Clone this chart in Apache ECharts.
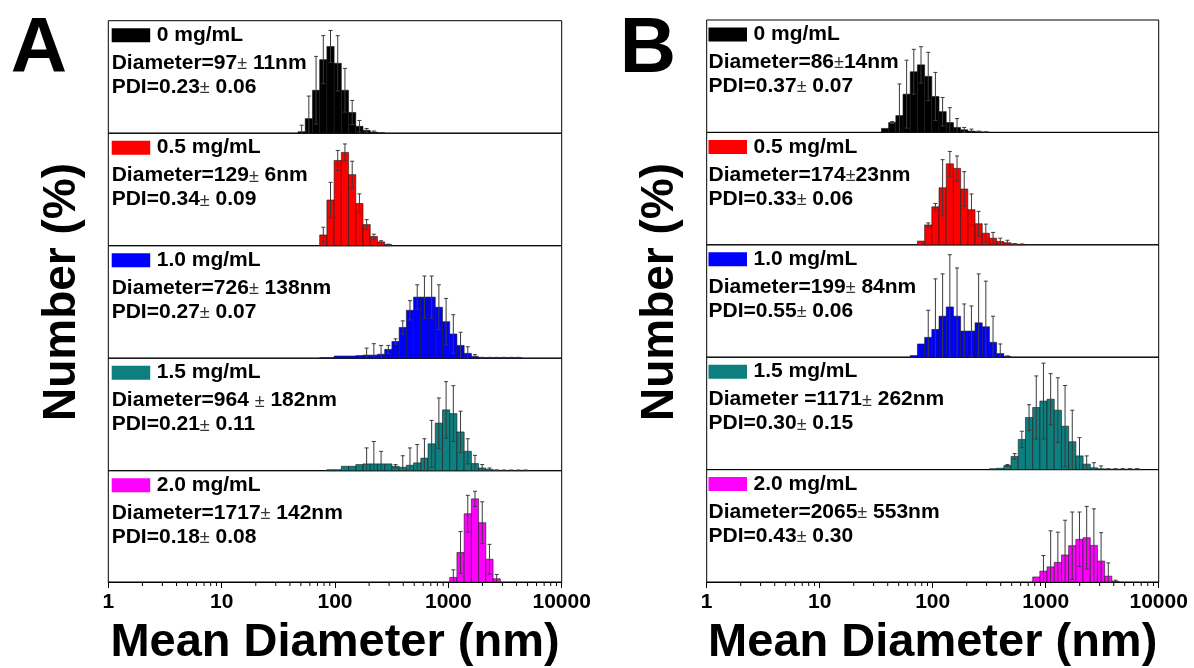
<!DOCTYPE html>
<html>
<head>
<meta charset="utf-8">
<title>Number distributions</title>
<script src="https://cdn.jsdelivr.net/npm/echarts@6/dist/echarts.min.js"></script>
<style>
  html, body { margin: 0; padding: 0; background: #fff; }
  #chart { width: 1194px; height: 668px; }
</style>
</head>
<body>
<div id="chart"></div>
<script>
// DLS number distributions, bins = Zetasizer size classes (nm)
var bins = [37.84, 43.82, 50.75, 58.77, 68.06, 78.82, 91.28, 105.7, 122.4, 141.8,
    164.2, 190.1, 220.2, 255.0, 295.3, 342.0, 396.1, 458.7, 531.2, 615.1,
    712.4, 825.0, 955.4, 1106, 1281, 1484, 1718, 1990, 2305, 2669,
    3091, 3580, 4145, 4801, 5560, 6439, 7456, 8635];
var binRatio = 1.1581; // step between two bins

var xTicks = [1, 10, 100, 1000, 10000];
var concLabels = ['0 mg/mL', '0.5 mg/mL', '1.0 mg/mL', '1.5 mg/mL', '2.0 mg/mL'];
var colors = ['#000000', '#ff0000', '#0000ff', '#0d7f7f', '#ff00ff'];

// panel A : first bin index, Number (%) and error, y max
var startA = [2, 5, 5, 6, 23];
var yMaxA = [30.9, 29.3, 25.6, 33.1, 41.1];
var valA0 = [0.4, 4.0, 11.8, 20.2, 23.8, 19.2, 11.8, 5.7, 1.9, 0.8, 0.3, 0.1];
var errA0 = [1.8, 6.2, 9.3, 6.6, 4.4, 7.6, 6.0, 3.3, 1.6, 0.5, 0.3, 0.1];
var valA1 = [2.8, 11.9, 22.2, 24.3, 18.5, 11.0, 5.5, 2.4, 1.0, 0.3];
var errA1 = [2.0, 4.6, 2.6, 2.2, 3.5, 2.5, 1.3, 0.6, 0.3, 0.1];
var valA2 = [0.1, 0.1, 0.5, 0.5, 0.5, 0.6, 0.7, 0.7, 0.9, 2.0, 3.8, 7.0, 10.9, 13.9,
    13.9, 13.9, 11.6, 8.3, 5.5, 2.9, 1.1, 0.4, 0.1, 0.1, 0.1, 0.1, 0.1, 0.1];
var errA2 = [0, 0, 0, 0, 0, 0, 1.6, 2.6, 2.0, 0.9, 0.6, 1.5, 2.2, 2.8,
    4.8, 4.8, 5.1, 5.3, 4.4, 3.0, 1.5, 0.4, 0.1, 0.1, 0.1, 0.1, 0.1, 0.1];
var valA3 = [0.3, 0.3, 1.3, 1.3, 1.8, 2.0, 2.0, 2.0, 2.0, 1.3, 1.0, 1.6, 2.3, 3.7,
    7.9, 14.0, 17.9, 16.8, 11.4, 5.7, 2.1, 0.8, 0.4, 0.15, 0.1, 0.1, 0.1, 0.1];
var errA3 = [0, 0, 0, 0, 0, 4.7, 6.6, 3.7, 0, 0.5, 3.4, 5.1, 5.4, 5.7,
    6.9, 7.4, 8.3, 8.2, 6.1, 3.7, 2.4, 1.0, 0.4, 0.1, 0.1, 0.1, 0.1, 0.1];
var valA4 = [1.7, 10.9, 25.2, 30.7, 21.9, 8.4, 1.2];
var errA4 = [2.8, 7.7, 6.8, 2.8, 7.7, 5.5, 1.6];
var textA = [
    ['Diameter=97± 11nm', 'PDI=0.23± 0.06'],
    ['Diameter=129± 6nm', 'PDI=0.34± 0.09'],
    ['Diameter=726± 138nm', 'PDI=0.27± 0.07'],
    ['Diameter=964 ± 182nm', 'PDI=0.21± 0.11'],
    ['Diameter=1717± 142nm', 'PDI=0.18± 0.08']
];

// panel B
var startB = [0, 5, 4, 15, 21];
var yMaxB = [34.1, 27.2, 34.0, 24.6, 42.4];
var valB0 = [1.2, 3.0, 5.1, 11.6, 18.4, 20.5, 17.0, 10.9, 6.3, 3.0, 1.5, 0.8, 0.4, 0.2, 0.1];
var errB0 = [0, 0.3, 9.6, 10.3, 6.8, 5.5, 7.3, 7.3, 4.3, 4.5, 2.7, 0.7, 0.6, 0.2, 0.1];
var valB1 = [0.9, 4.8, 9.2, 13.8, 19.6, 18.5, 13.5, 8.5, 5.1, 2.8, 1.6, 0.8, 0.5, 0.2, 0.1];
var errB1 = [0, 0.5, 0.8, 6.8, 3.0, 3.0, 4.2, 3.8, 3.0, 2.2, 1.4, 0.8, 0.6, 0.1, 0.1];
var valB2 = [0.5, 4.0, 6.0, 8.4, 12.4, 15.2, 12.4, 7.9, 7.9, 10.4, 9.2, 4.5, 1.1, 0.2];
var errB2 = [0, 0, 8.2, 15.3, 12.8, 15.8, 14.6, 8.2, 7.6, 14.8, 13.8, 7.9, 2.9, 0.2];
var valB3 = [0.2, 0.3, 0.9, 2.9, 6.6, 11.4, 13.6, 15.0, 15.4, 13.0, 9.5, 6.1, 3.0, 1.2,
    0.4, 0.2, 0.1, 0.1, 0.1, 0.1, 0.1];
var errB3 = [0, 0, 0.2, 0.6, 1.8, 2.8, 6.9, 8.3, 5.6, 7.1, 8.9, 6.9, 4.0, 1.8,
    1.1, 0.6, 0.1, 0.1, 0.1, 0.1, 0.1];
var valB4 = [1.9, 4.1, 5.7, 7.4, 10.2, 13.7, 16.1, 16.7, 13.8, 7.9, 2.2, 0.3];
var errB4 = [0, 5.9, 13.6, 11.4, 13.1, 12.7, 10.3, 11.8, 13.8, 10.7, 5.0, 0.4];
var textB = [
    ['Diameter=86±14nm', 'PDI=0.37± 0.07'],
    ['Diameter=174±23nm', 'PDI=0.33± 0.06'],
    ['Diameter=199± 84nm', 'PDI=0.55± 0.06'],
    ['Diameter =1171± 262nm', 'PDI=0.30± 0.15'],
    ['Diameter=2065± 553nm', 'PDI=0.43± 0.30']
];

// minor tick positions 2..9 of each decade
var minorTicks = [];
for (var d = 1; d < 10000; d *= 10) {
    for (var k = 2; k <= 9; k++) minorTicks.push(d * k);
}

var FONT = "'Liberation Sans', Arial, sans-serif";

var panels = [
    { name: 'A', left: 108.3, width: 453.4, top: 20.7, step: 112.5, letterX: 39, titleX: 62,
      start: startA, yMax: yMaxA, vals: [valA0, valA1, valA2, valA3, valA4],
      errs: [errA0, errA1, errA2, errA3, errA4], text: textA, textDx: 3.4 },
    { name: 'B', left: 706.7, width: 452, top: 20, step: 112.4, letterX: 648, titleX: 660,
      start: startB, yMax: yMaxB, vals: [valB0, valB1, valB2, valB3, valB4],
      errs: [errB0, errB1, errB2, errB3, errB4], text: textB, textDx: 1.8 }
];

function renderBar(params, api) {
    var size = api.value(0), val = api.value(1);
    var h = Math.sqrt(binRatio);
    var p1 = api.coord([size / h, val]);
    var p2 = api.coord([size * h, 0]);
    return {
        type: 'rect',
        shape: { x: p1[0], y: p1[1], width: p2[0] - p1[0], height: p2[1] - p1[1] },
        style: { fill: api.visual('color'), stroke: '#1a1a1a', lineWidth: 0.6 }
    };
}

function renderErr(params, api) {
    var size = api.value(0), val = api.value(1), err = api.value(2);
    if (!err) return null;
    var top = api.coord([size, val + err]);
    var bot = api.coord([size, Math.max(0, val - err)]);
    var st = { stroke: '#3a3a3a', lineWidth: 1 };
    var kids = [
        { type: 'line', shape: { x1: top[0], y1: top[1], x2: bot[0], y2: bot[1] }, style: st },
        { type: 'line', shape: { x1: top[0] - 2, y1: top[1], x2: top[0] + 2, y2: top[1] }, style: st }
    ];
    if (val - err > 0) {
        kids.push({ type: 'line', shape: { x1: bot[0] - 2, y1: bot[1], x2: bot[0] + 2, y2: bot[1] }, style: st });
    }
    return { type: 'group', children: kids };
}

function renderMinor(params, api) {
    var p = api.coord([api.value(0), 0]);
    return {
        type: 'line',
        shape: { x1: p[0], y1: p[1], x2: p[0], y2: p[1] + 4 },
        style: { stroke: '#000', lineWidth: 1 }
    };
}

var grids = [], xAxes = [], yAxes = [], series = [], graphics = [];

panels.forEach(function (pn) {
    for (var i = 0; i < 5; i++) {
        var idx = grids.length;
        var top = pn.top + i * pn.step;
        var isBottom = i === 4;
        grids.push({
            left: pn.left, width: pn.width, top: top, height: pn.step,
            show: true, borderColor: '#000', borderWidth: 1, backgroundColor: 'transparent'
        });
        xAxes.push({
            type: 'log', logBase: 10, gridIndex: idx, min: xTicks[0], max: xTicks[xTicks.length - 1],
            axisLine: { show: isBottom, lineStyle: { color: '#000', width: 1 } },
            axisTick: { show: isBottom, inside: false, length: 6, lineStyle: { color: '#000', width: 1 } },
            axisLabel: {
                show: isBottom, margin: 10, color: '#000', fontSize: 21, fontWeight: 'bold', fontFamily: FONT,
                formatter: function (v) {
                    var t = xTicks.find(function (x) { return Math.abs(x - v) / x < 1e-6; });
                    return t ? String(t) : '';
                }
            },
            splitLine: { show: false },
            name: isBottom ? 'Mean Diameter (nm)' : '',
            nameLocation: 'middle', nameGap: 38,
            nameTextStyle: { color: '#000', fontSize: 47, fontWeight: 'bold', fontFamily: FONT }
        });
        yAxes.push({
            type: 'value', gridIndex: idx, min: 0, max: pn.yMax[i], show: false
        });

        var vals = pn.vals[i], errs = pn.errs[i];
        var data = vals.map(function (v, j) { return [bins[pn.start[i] + j], v, errs[j]]; });
        series.push({
            type: 'custom', xAxisIndex: idx, yAxisIndex: idx, renderItem: renderBar,
            itemStyle: { color: colors[i] }, encode: { x: 0, y: 1 }, data: data, z: 2
        });
        series.push({
            type: 'custom', xAxisIndex: idx, yAxisIndex: idx, renderItem: renderErr,
            encode: { x: 0, y: 1 }, data: data, z: 3
        });
        if (isBottom) {
            series.push({
                type: 'custom', xAxisIndex: idx, yAxisIndex: idx, renderItem: renderMinor,
                encode: { x: 0 }, data: minorTicks.map(function (m) { return [m]; }), clip: false, z: 4
            });
        }

        // legend swatch and text block
        var tx = pn.left + pn.textDx;
        graphics.push({
            type: 'rect', left: tx, top: top + 7.5,
            shape: { width: 38.5, height: 14 }, style: { fill: colors[i] }
        });
        graphics.push({
            type: 'text', x: tx + 45, y: top + 14.5,
            style: { text: concLabels[i], fill: '#000', fontSize: 21, fontWeight: 'bold', fontFamily: FONT, verticalAlign: 'middle' }
        });
        pn.text[i].forEach(function (line, k) {
            graphics.push({
                type: 'text', x: tx, y: top + 42.5 + k * 24,
                style: {
                    text: line.replace('±', '{pm|±}'), fill: '#000', fontSize: 21, fontWeight: 'bold',
                    fontFamily: FONT, verticalAlign: 'middle',
                    rich: { pm: { fontSize: 18, fontWeight: 'normal', fontFamily: FONT, fill: '#333', padding: [2, 0, 0, 0] } }
                }
            });
        });
    }

    graphics.push({
        type: 'text', x: pn.letterX, y: 50,
        style: { text: pn.name, fill: '#000', fontSize: 78, fontWeight: 'bold', fontFamily: FONT, align: 'center', verticalAlign: 'middle' }
    });
    graphics.push({
        type: 'text', x: pn.titleX, y: 292, rotation: Math.PI / 2,
        style: { text: 'Number (%)', fill: '#000', fontSize: 46, fontWeight: 'bold', fontFamily: FONT, align: 'center', verticalAlign: 'middle' }
    });
});

var chartDom = document.getElementById('chart');
var myChart = echarts.init(chartDom);
var option = {
    animation: false,
    backgroundColor: '#fff',
    grid: grids,
    xAxis: xAxes,
    yAxis: yAxes,
    series: series,
    graphic: graphics
};
option && myChart.setOption(option);
</script>
</body>
</html>
